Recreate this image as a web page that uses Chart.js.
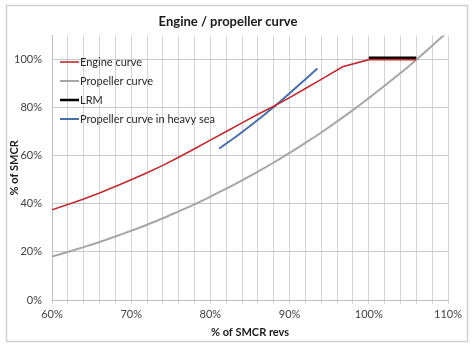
<!DOCTYPE html>
<html>
<head>
<meta charset="utf-8">
<script src="https://cdn.jsdelivr.net/npm/chart.js@4/dist/chart.umd.min.js"></script>
<style>
  html, body { margin: 0; padding: 0; background: #fff; }
  #wrap { width: 474px; height: 351px; }
</style>
</head>
<body>
<div id="wrap"><canvas id="curveChart" width="474" height="351"></canvas></div>
<script>
// Data (% of SMCR revs -> % of SMCR)
const seriesNames = ['Engine curve', 'Propeller curve', 'LRM', 'Propeller curve in heavy sea'];

const engineRevs = [60, 62, 64, 66, 68, 70, 72, 74, 76, 78, 80, 82, 84, 86, 88, 90, 92, 94, 96.7, 100, 106];
const enginePower = [37.5, 39.7, 42, 44.5, 47.2, 50, 52.9, 56, 59.4, 62.9, 66.5, 70.1, 73.7, 77.3, 80.6, 84.2, 88, 91.8, 97, 100, 100];

const propRevs = [60, 62, 64, 66, 68, 70, 72, 74, 76, 78, 80, 82, 84, 86, 88, 90, 92, 94, 96, 98, 100, 102, 104, 106, 108, 110];
const propPower = [18.1, 20, 22, 24.1, 26.4, 28.8, 31.3, 34, 36.9, 39.8, 43, 46.3, 49.8, 53.4, 57.2, 61.2, 65.4, 69.7, 74.3, 79, 84, 89.1, 94.4, 100, 105.8, 111.7];

const lrmRevs = [100, 106];
const lrmPower = [100.8, 100.8];

const seaRevs = [81.1, 83, 85, 87, 89, 91, 93.5];
const seaPower = [63, 67.4, 72.4, 77.6, 83.1, 88.9, 96.3];

const xTickLabels = [60, 70, 80, 90, 100, 110];
const yTickLabels = [0, 20, 40, 60, 80, 100];

const colors = ['#be2b2e', '#a6a6a6', '#000000', '#4a6ea9'];
const widths = [1.6, 2, 2.5, 2];

function toPoints(xs, ys) {
    return xs.map((x, i) => ({ x: x, y: ys[i] }));
}

// Rahmen um das ganze Diagramm
const framePlugin = {
    id: 'frame',
    beforeDraw(chart) {
        const ctx = chart.ctx;
        ctx.save();
        ctx.fillStyle = '#ffffff';
        ctx.fillRect(0, 0, chart.width, chart.height);
        ctx.strokeStyle = '#d0d0d0';
        ctx.lineWidth = 1.5;
        ctx.strokeRect(6.5, 5.5, 461, 336);
        ctx.restore();
    }
};

// Legende innerhalb der Zeichenfläche
const innerLegend = {
    id: 'innerLegend',
    afterDatasetsDraw(chart) {
        const ctx = chart.ctx;
        const area = chart.chartArea;
        ctx.save();
        ctx.font = '11px Lato, "Open Sans", sans-serif';
        ctx.textBaseline = 'middle';
        ctx.fillStyle = '#262626';
        chart.data.datasets.forEach((ds, i) => {
            const y = 62 + i * 19;
            ctx.strokeStyle = ds.borderColor;
            ctx.lineWidth = ds.borderWidth;
            ctx.beginPath();
            ctx.moveTo(area.left + 8, y);
            ctx.lineTo(area.left + 27, y);
            ctx.stroke();
            ctx.fillText(ds.label, area.left + 28, y);
        });
        ctx.restore();
    }
};

function makeDataset(i, xs, ys, tension) {
    return {
        label: seriesNames[i],
        data: toPoints(xs, ys),
        borderColor: colors[i],
        backgroundColor: colors[i],
        borderWidth: widths[i],
        pointRadius: 0,
        tension: tension,
        fill: false
    };
}

const ctx = document.getElementById('curveChart').getContext('2d');
new Chart(ctx, {
    type: 'line',
    data: {
        datasets: [
            makeDataset(0, engineRevs, enginePower, 0),
            makeDataset(1, propRevs, propPower, 0.3),
            makeDataset(2, lrmRevs, lrmPower, 0),
            makeDataset(3, seaRevs, seaPower, 0.2)
        ]
    },
    options: {
        responsive: false,
        animation: false,
        layout: { padding: { left: 8, right: 26, top: 0, bottom: 12 } },
        plugins: {
            legend: { display: false },
            tooltip: { enabled: false },
            title: {
                display: true,
                text: 'Engine / propeller curve',
                color: '#1a1a1a',
                font: { family: 'Lato, "Open Sans", sans-serif', size: 13, weight: 'bold' },
                padding: { top: 14, bottom: 6 }
            }
        },
        scales: {
            x: {
                type: 'linear',
                min: 60,
                max: 110,
                afterFit(scale) { scale.height = 39; },
                ticks: {
                    stepSize: 2,
                    autoSkip: false,
                    maxRotation: 0,
                    padding: 4,
                    color: '#404040',
                    font: { family: 'Lato, "Open Sans", sans-serif', size: 11 },
                    callback: (v) => xTickLabels.includes(v) ? v + '%' : ''
                },
                grid: { color: '#d4d4d4', tickLength: 4, lineWidth: 1 },
                border: { color: '#bfbfbf' },
                title: {
                    display: true,
                    text: '% of SMCR revs',
                    color: '#1a1a1a',
                    font: { family: 'Lato, "Open Sans", sans-serif', size: 11, weight: 'bold' },
                    padding: { top: 2, bottom: 0 }
                }
            },
            y: {
                min: 0,
                max: 110,
                afterFit(scale) { scale.width = 44; },
                ticks: {
                    stepSize: 20,
                    padding: 10,
                    color: '#404040',
                    font: { family: 'Lato, "Open Sans", sans-serif', size: 11 },
                    callback: (v) => yTickLabels.includes(v) ? v + '%' : ''
                },
                grid: {
                    drawTicks: false,
                    color: (c) => c.tick && c.tick.value > 100 ? 'rgba(0,0,0,0)' : '#c8c8c8'
                },
                border: { color: '#bfbfbf' },
                title: {
                    display: true,
                    text: '% of SMCR',
                    color: '#1a1a1a',
                    font: { family: 'Lato, "Open Sans", sans-serif', size: 11, weight: 'bold' },
                    padding: { top: 0, bottom: 0 }
                }
            }
        }
    },
    plugins: [framePlugin, innerLegend]
});
</script>
</body>
</html>
